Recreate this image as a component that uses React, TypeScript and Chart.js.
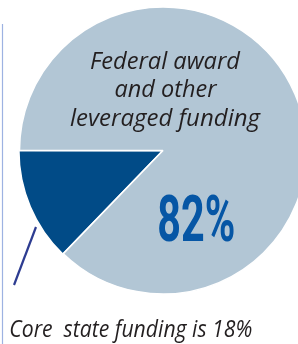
import React, { useEffect, useRef } from 'react';
import { Chart, ArcElement, PieController } from 'chart.js';

Chart.register(ArcElement, PieController);

// Slices in the order they are drawn (clockwise from the lower-left)
const sliceLabels = ['Core state funding', 'Federal award and other leveraged funding'];
// Share of the circle each wedge occupies as drawn in the picture (the small wedge spans ~46°)
const sliceValues = [12.8, 87.2];
// Printed shares
const printedShares = ['18%', '82%'];
const federalLines = ['Federal award', 'and other', 'leveraged funding'];
const coreCaption = 'Core  state funding is ' + printedShares[0];

const DARK = '#014b87';
const LIGHT = '#b2c6d5';
const INK = '#231f20';

export default function App() {
  const ref = useRef<HTMLCanvasElement>(null);

  useEffect(() => {
    const chart = new Chart(ref.current as HTMLCanvasElement, {
      type: 'pie',
      data: {
        labels: sliceLabels,
        datasets: [
          {
            data: sliceValues,
            backgroundColor: [DARK, LIGHT],
            borderColor: '#ffffff',
            borderWidth: 1.5,
            offset: [2, 0],
            clip: false,
          } as any,
        ],
      },
      options: {
        responsive: false,
        animation: false,
        rotation: 224,
        radius: 143.5,
        layout: { padding: { left: 28, right: 0, top: 0, bottom: 43 } },
        plugins: { legend: { display: false }, tooltip: { enabled: false } },
        events: [],
      } as any,
    });
    return () => chart.destroy();
  }, []);

  const italic = {
    fontFamily: "'Open Sans', 'Noto Sans', sans-serif",
    fontStyle: 'italic',
    fontWeight: 500,
    fill: INK,
  } as React.CSSProperties;

  return (
    <div
      style={{
        position: 'absolute',
        left: 0,
        top: 0,
        width: 298,
        height: 344,
        overflow: 'hidden',
        background: '#ffffff',
      }}
    >
      <canvas ref={ref} width={298} height={344} style={{ position: 'absolute', left: 0, top: 0 }} />
      <svg
        width={298}
        height={344}
        style={{ position: 'absolute', left: 0, top: 0, pointerEvents: 'none' }}
      >
        <line x1={2.5} y1={24} x2={2.5} y2={344} stroke="#9db2e2" strokeWidth={1.2} />
        <line x1={36} y1={227} x2={14} y2={285} stroke="#2d3c91" strokeWidth={2.2} />
        <text x={165} y={68.5} textAnchor="middle" fontSize={23} textLength={150} lengthAdjust="spacingAndGlyphs" style={italic}>
          {federalLines[0]}
        </text>
        <text x={165.5} y={97} textAnchor="middle" fontSize={23} textLength={102} lengthAdjust="spacingAndGlyphs" style={italic}>
          {federalLines[1]}
        </text>
        <text x={165} y={125.5} textAnchor="middle" fontSize={23} textLength={190} lengthAdjust="spacingAndGlyphs" style={italic}>
          {federalLines[2]}
        </text>
        <text
          x={196.3}
          y={241}
          textAnchor="middle"
          fontSize={64}
          textLength={78}
          lengthAdjust="spacingAndGlyphs"
          style={{ fontFamily: "Roboto, 'Liberation Sans', sans-serif", fontWeight: 700, fill: '#0656a5' }}
        >
          {printedShares[1]}
        </text>
        <text
          x={9.3}
          y={337}
          fontSize={23.5}
          textLength={243}
          lengthAdjust="spacingAndGlyphs"
          style={{ ...italic, whiteSpace: 'pre' }}
        >
          {coreCaption}
        </text>
      </svg>
    </div>
  );
}
